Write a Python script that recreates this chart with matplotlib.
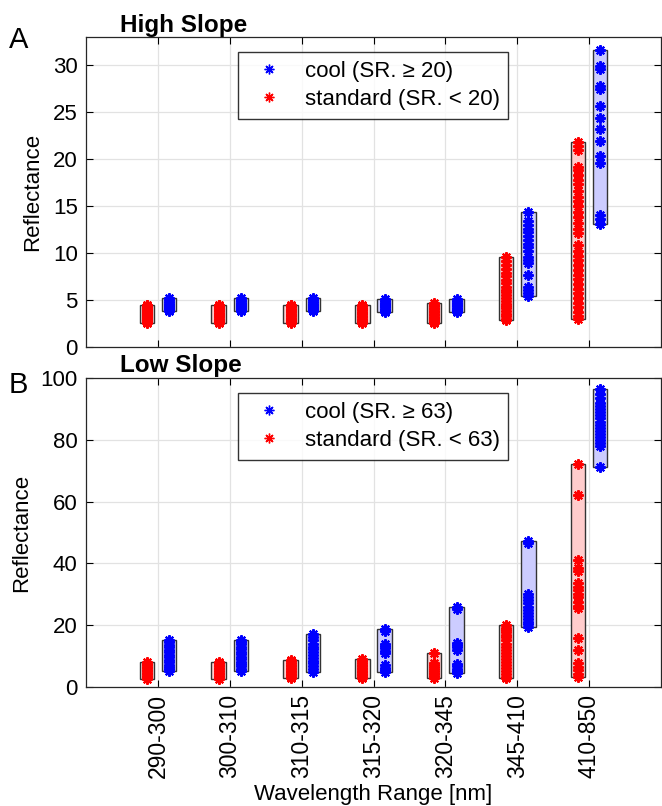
import numpy as np
import matplotlib.pyplot as plt
from matplotlib.patches import Rectangle

plt.rcParams['font.family'] = ['Liberation Sans', 'DejaVu Sans']

ranges = ['290-300', '300-310', '310-315', '315-320', '320-345', '345-410', '410-850']

# ---- High slope: reflectance per wavelength range ----
high_std = [
    [2.5, 2.6, 2.8, 2.9, 3.0, 3.1, 3.2, 3.3, 3.4, 3.5, 3.6, 3.7, 3.8, 3.9, 4.0, 4.1, 4.2, 4.3, 4.4, 4.5],
    [2.5, 2.6, 2.7, 2.9, 3.0, 3.2, 3.3, 3.4, 3.5, 3.6, 3.8, 3.9, 4.0, 4.1, 4.2, 4.3, 4.4, 4.5],
    [2.5, 2.6, 2.8, 2.9, 3.0, 3.1, 3.3, 3.4, 3.5, 3.7, 3.8, 3.9, 4.0, 4.2, 4.3, 4.4, 4.5],
    [2.5, 2.6, 2.7, 2.9, 3.0, 3.2, 3.3, 3.5, 3.6, 3.7, 3.9, 4.0, 4.1, 4.3, 4.46],
    [2.5, 2.6, 2.8, 2.9, 3.1, 3.2, 3.4, 3.5, 3.7, 3.8, 4.0, 4.1, 4.3, 4.4, 4.64],
    [2.8, 3.0, 3.3, 3.5, 3.8, 4.1, 4.3, 4.6, 4.9, 5.2, 5.5, 5.8, 6.1, 6.4, 6.8, 7.1,
     7.5, 7.9, 8.3, 8.7, 9.1, 9.55],
    [21.8, 21.4, 21.0, 19.2, 18.8, 18.3, 17.8, 17.4, 16.6, 16.0, 15.5, 15.0, 14.4, 13.8,
     13.2, 12.6, 12.1, 10.8, 10.2, 9.7, 9.2, 8.7, 8.2, 7.7, 7.2, 6.7, 6.2, 5.7, 5.2,
     4.7, 4.2, 3.7, 3.3, 2.96],
]
high_cool = [
    [3.85, 3.9, 4.0, 4.1, 4.2, 4.3, 4.4, 4.5, 4.6, 4.8, 5.0, 5.15],
    [3.85, 3.9, 4.0, 4.1, 4.2, 4.3, 4.4, 4.6, 4.7, 4.9, 5.0, 5.2],
    [3.85, 3.9, 4.0, 4.1, 4.2, 4.4, 4.5, 4.6, 4.8, 5.0, 5.15],
    [3.74, 3.8, 3.9, 4.0, 4.2, 4.3, 4.4, 4.6, 4.7, 4.9, 5.1],
    [3.67, 3.8, 3.9, 4.0, 4.1, 4.3, 4.4, 4.5, 4.7, 4.9, 5.1],
    [14.4, 13.4, 13.0, 12.6, 12.2, 11.8, 11.4, 11.0, 10.6, 10.2, 9.6, 9.2, 8.9, 7.7,
     6.4, 6.0, 5.7, 5.4],
    [31.7, 29.9, 29.6, 27.8, 27.5, 25.7, 24.4, 23.2, 21.9, 20.3, 19.6, 14.0, 13.6, 13.1],
]

# ---- Low slope ----
low_std = [
    [2.6, 3.0, 3.5, 4.0, 4.5, 5.0, 5.5, 6.0, 6.5, 7.0, 7.5, 8.1],
    [2.6, 3.1, 3.6, 4.1, 4.6, 5.1, 5.6, 6.1, 6.6, 7.1, 7.6, 8.1],
    [2.7, 3.2, 3.7, 4.2, 4.7, 5.2, 5.7, 6.2, 6.7, 7.2, 7.7, 8.2, 8.65],
    [2.7, 3.2, 3.7, 4.2, 4.7, 5.2, 5.7, 6.2, 6.7, 7.2, 7.7, 8.3, 8.9],
    [11.0, 7.6, 7.0, 6.4, 5.8, 5.2, 4.6, 4.0, 3.4, 2.7],
    [20.0, 19.2, 18.4, 17.6, 16.8, 16.0, 15.0, 14.0, 13.0, 12.0, 11.0, 10.0, 9.0, 8.0,
     7.0, 6.0, 5.0, 4.0, 3.3, 2.7],
    [72.2, 62.2, 41.2, 38.5, 37.4, 33.5, 32.4, 31.3, 30.2, 29.0, 27.6, 26.3, 25.4, 15.7,
     12.0, 7.7, 6.5, 5.3, 4.2, 3.0],
]
low_cool = [
    [5.1, 5.8, 6.5, 7.2, 8.0, 8.8, 9.6, 10.4, 11.2, 12.0, 12.8, 13.6, 14.4, 15.1],
    [5.1, 5.9, 6.6, 7.4, 8.1, 8.9, 9.7, 10.5, 11.3, 12.1, 12.9, 13.7, 14.5, 15.1],
    [4.9, 5.8, 6.7, 7.6, 8.5, 9.4, 10.3, 11.2, 12.1, 13.0, 14.0, 15.0, 16.0, 17.1],
    [18.6, 18.1, 14.0, 13.2, 12.4, 11.6, 10.8, 6.9, 6.0, 5.4, 4.9],
    [25.9, 25.3, 14.3, 13.6, 12.8, 12.0, 7.4, 6.6, 5.8, 5.2, 4.6],
    [47.3, 46.5, 30.0, 29.0, 28.0, 27.0, 26.0, 25.0, 24.0, 23.0, 22.0, 21.0, 20.2, 19.5],
    [96.4, 95.0, 93.5, 92.0, 91.0, 90.0, 89.0, 88.0, 87.0, 86.0, 85.0, 84.0, 83.0, 82.0,
     81.0, 80.0, 79.0, 78.0, 71.3],
]

MARK = (8, 2, 0)  # asterisk like MATLAB '*'
OFF, W = 0.155, 0.2
FS = 16


def draw_panel(ax, std, cool, thr, ymax, yticks):
    for i in range(len(ranges)):
        x0 = i + 1
        for vals, dx, face, col in [(std[i], -OFF, '#ffcccc', 'red'),
                                    (cool[i], OFF, '#ccccff', 'blue')]:
            lo, hi = min(vals), max(vals)
            ax.add_patch(Rectangle((x0 + dx - W / 2, lo), W, hi - lo, facecolor=face,
                                   edgecolor='#333333', linewidth=1.0, zorder=2))
            ax.plot([x0 + dx] * len(vals), vals, linestyle='none', marker=MARK,
                    markersize=7.5, markeredgewidth=1.5, color=col, zorder=3)
    # legend handles
    ax.plot([], [], linestyle='none', marker=MARK, markersize=7, markeredgewidth=1.0,
            color='blue', label='cool (SR. \u2265 %d)' % thr)
    ax.plot([], [], linestyle='none', marker=MARK, markersize=7, markeredgewidth=1.0,
            color='red', label='standard (SR. < %d)' % thr)
    ax.set_xlim(0, 8)
    ax.set_ylim(0, ymax)
    ax.set_xticks(range(1, len(ranges) + 1))
    ax.set_yticks(yticks)
    ax.grid(True, color='#e2e2e2', linewidth=0.9)
    ax.set_axisbelow(True)
    ax.tick_params(direction='in', top=True, right=True, labelsize=FS, length=5,
                   width=0.8)
    ax.tick_params(axis='y', pad=6)
    for sp in ax.spines.values():
        sp.set_linewidth(0.9)
        sp.set_color('#262626')
    leg = ax.legend(loc='upper left', bbox_to_anchor=(0.264, 0.952), fontsize=FS,
                    frameon=True, fancybox=False, borderpad=0.4, handletextpad=0.6,
                    labelspacing=0.3, handlelength=2.0, borderaxespad=0)
    leg.get_frame().set_edgecolor('black')
    leg.get_frame().set_linewidth(1.0)
    ax.set_ylabel('Reflectance', fontsize=FS)


fig = plt.figure(figsize=(6.62, 8.06), dpi=100)
ax_a = fig.add_axes([0.130, 0.5698, 0.8685, 0.3839])
ax_b = fig.add_axes([0.130, 0.1480, 0.8685, 0.3826])

draw_panel(ax_a, high_std, high_cool, 20, 33, [0, 5, 10, 15, 20, 25, 30])
draw_panel(ax_b, low_std, low_cool, 63, 100, [0, 20, 40, 60, 80, 100])

ax_a.set_xticklabels([])
ax_b.set_xticklabels(ranges, rotation=90, fontsize=16.5)
ax_b.tick_params(axis='x', pad=5)
ax_a.yaxis.set_label_coords(-0.0748, 0.5)
ax_b.yaxis.set_label_coords(-0.094, 0.5)
ax_b.set_xlabel('Wavelength Range [nm]', fontsize=FS)
ax_b.xaxis.set_label_coords(0.5, -0.317)

ax_a.text(0.17, 1.018, 'High Slope', transform=ax_a.transAxes, fontsize=17.5,
          fontweight='bold', ha='center', va='baseline')
ax_b.text(0.165, 1.021, 'Low Slope', transform=ax_b.transAxes, fontsize=17.5,
          fontweight='bold', ha='center', va='baseline')
fig.text(9 / 662, 1 - 48.3 / 806, 'A', fontsize=21, ha='left', va='baseline')
fig.text(9 / 662, 1 - 393 / 806, 'B', fontsize=21, ha='left', va='baseline')

fig.savefig('out.png', dpi=100)
